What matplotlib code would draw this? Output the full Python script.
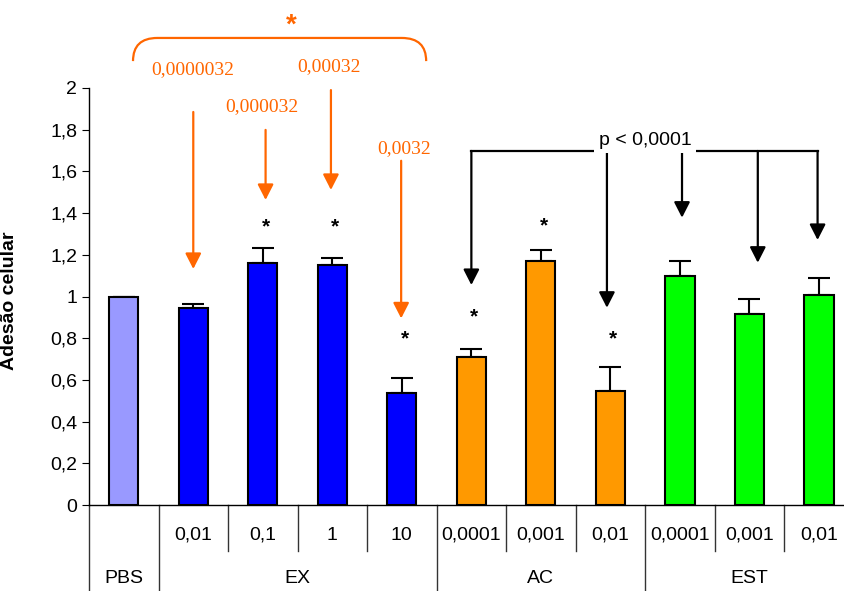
import matplotlib
matplotlib.use('Agg')
import matplotlib.pyplot as plt
import matplotlib.transforms as mtransforms
from matplotlib.path import Path
from matplotlib.patches import PathPatch
from matplotlib.ticker import FuncFormatter

plt.rcParams['font.family'] = ['Liberation Sans', 'DejaVu Sans']

# dados
groups = ['PBS', 'EX', 'AC', 'EST']
group_sizes = [1, 4, 3, 3]
group_colors = ['#9999FF', '#0000FF', '#FF9900', '#00FF00']
conc_labels = ['', '0,01', '0,1', '1', '10', '0,0001', '0,001', '0,01', '0,0001', '0,001', '0,01']
values = [1.0, 0.945, 1.162, 1.153, 0.537, 0.71, 1.168, 0.547, 1.096, 0.916, 1.007]
errors = [0.0, 0.018, 0.07, 0.033, 0.073, 0.037, 0.056, 0.117, 0.072, 0.072, 0.081]

# asteriscos sobre as barras
star_idx = [2, 3, 4, 5, 6, 7]
star_y = [1.335, 1.335, 0.796, 0.903, 1.338, 0.796]

# setas laranja (EX vs PBS)
orange_x = [1.0, 2.04, 2.98, 3.99]
orange_top = [1.885, 1.799, 1.99, 1.651]
orange_tip = [1.132, 1.463, 1.511, 0.895]
orange_labels = ['0,0000032', '0,000032', '0,00032', '0,0032']
orange_lab_x = [0.996, 1.99, 2.95, 4.03]
orange_lab_y = [2.09, 1.909, 2.105, 1.707]

# setas pretas (p < 0,0001)
black_x = [5.0, 6.95, 8.03, 9.12, 9.98]
black_tip = [1.055, 0.946, 1.378, 1.162, 1.271]
black_top = 1.698

ORANGE = '#FF6600'

colors = []
for c, n in zip(group_colors, group_sizes):
    colors += [c] * n
x = list(range(len(values)))

fig = plt.figure(figsize=(8.44, 5.91), dpi=100)
ax = fig.add_axes([89/844, 86/591, 755/844, 417/591])

ax.bar(x, values, width=0.42, color=colors, edgecolor='black', linewidth=1.5, zorder=3)
ax.errorbar(x, values, yerr=[[0]*len(errors), errors], fmt='none', ecolor='black',
            elinewidth=1.5, capsize=8, capthick=1.5, zorder=2)

ax.set_xlim(-0.5, 10.36)
ax.set_ylim(0, 2)
ax.set_yticks([i/5 for i in range(11)])
ax.yaxis.set_major_formatter(FuncFormatter(lambda v, p: ('%g' % round(v, 1)).replace('.', ',')))
ax.tick_params(axis='y', direction='out', length=5, labelsize=14)
ax.set_xticks([])
for s in ['top', 'right']:
    ax.spines[s].set_visible(False)
ax.spines['left'].set_linewidth(1.0)
ax.spines['bottom'].set_linewidth(1.0)
ax.set_ylabel('Adesão celular', fontsize=14, fontweight='bold')
ax.yaxis.set_label_coords(-0.094, 0.49)

# tabela de categorias abaixo do eixo
trans = mtransforms.blended_transform_factory(ax.transData, ax.transAxes)
row_mid = -0.1096
row_bot = -0.206
ax.plot([-0.5, -0.5], [0, row_bot], transform=trans, color='#333333', lw=1, clip_on=False)
for b in [1.5, 2.5, 3.5, 5.5, 6.5, 8.5, 9.5]:
    ax.plot([b, b], [0, row_mid], transform=trans, color='#333333', lw=1, clip_on=False)
for b in [0.5, 4.5, 7.5]:
    ax.plot([b, b], [0, row_bot], transform=trans, color='#333333', lw=1, clip_on=False)
for i, lab in enumerate(conc_labels):
    ax.text(i, -0.072, lab, transform=trans, ha='center', va='center', fontsize=14)
start = 0
for g, n in zip(groups, group_sizes):
    ax.text(start + (n - 1) / 2, -0.177, g, transform=trans, ha='center', va='center', fontsize=14)
    start += n

# asteriscos pretos
for i, y in zip(star_idx, star_y):
    ax.text(i + 0.04, y, '*', ha='center', va='center', fontsize=15, fontweight='bold')

head = '-|>,head_length=0.47,head_width=0.24'

# setas laranja e p-valores
for xa, yt, yb in zip(orange_x, orange_top, orange_tip):
    ax.annotate('', xy=(xa, yb), xytext=(xa, yt),
                arrowprops=dict(arrowstyle=head, color=ORANGE, lw=1.6, mutation_scale=20,
                                shrinkA=0, shrinkB=0), annotation_clip=False)
for xl, yl, lab in zip(orange_lab_x, orange_lab_y, orange_labels):
    ax.text(xl, yl, lab, ha='center', va='center', color=ORANGE, fontsize=14,
            family=['Liberation Serif', 'DejaVu Serif'], clip_on=False)

# chave laranja com asterisco
x0, x1, yb, yt, r = 0.133, 4.35, 2.129, 2.24, 0.35
verts = [(x0, yb), (x0, yt), (x0 + r, yt), (x1 - r, yt), (x1, yt), (x1, yb)]
codes = [Path.MOVETO, Path.CURVE3, Path.CURVE3, Path.LINETO, Path.CURVE3, Path.CURVE3]
ax.add_patch(PathPatch(Path(verts, codes), fill=False, edgecolor=ORANGE, lw=1.6, clip_on=False))
ax.text(2.41, 2.3, '*', ha='center', va='center', color=ORANGE, fontsize=20, fontweight='bold',
        clip_on=False)

# chave preta com setas
ax.plot([black_x[0], black_x[-1]], [black_top, black_top], color='black', lw=1.6, zorder=4)
for xa, yb in zip(black_x, black_tip):
    ax.annotate('', xy=(xa, yb), xytext=(xa, black_top),
                arrowprops=dict(arrowstyle=head, color='black', lw=1.6, mutation_scale=20,
                                shrinkA=0, shrinkB=0), zorder=4)
ax.text(7.5, 1.75, 'p < 0,0001', ha='center', va='center', fontsize=14, zorder=5,
        bbox=dict(boxstyle='square,pad=0.25', facecolor='white', edgecolor='none'))

plt.savefig('out.png', dpi=100)
